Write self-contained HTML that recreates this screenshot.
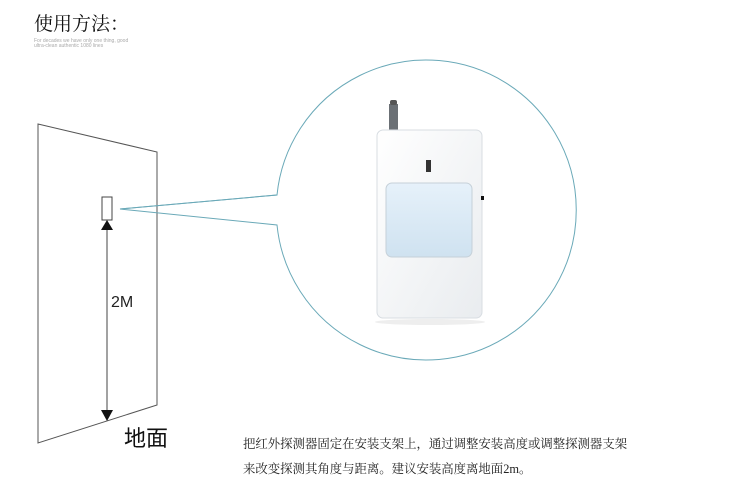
<!DOCTYPE html>
<html><head><meta charset="utf-8"><style>
body{margin:0;width:750px;height:503px;background:#fff;overflow:hidden;position:relative;font-family:"Liberation Sans","Noto Sans CJK SC",sans-serif}
.t{position:absolute;white-space:nowrap}
</style></head><body>
<div class="t" style="left:34px;top:9px;font-size:19px;color:#111;font-family:'Liberation Serif','Noto Serif CJK SC',serif">使用方法：</div>
<div class="t" style="left:34px;top:39px;font-size:5px;line-height:5px;color:#aaa">For decades we have only one thing, good<br>ultra-clean authentic 1080 lines</div>
<svg width="750" height="503" style="position:absolute;left:0;top:0">
<polygon points="38,124 157,152 157,405 38,443" fill="none" stroke="#555" stroke-width="1"/>
<rect x="102" y="197" width="10" height="23" fill="#fff" stroke="#444" stroke-width="1"/>
<line x1="107" y1="228" x2="107" y2="412" stroke="#444" stroke-width="1"/>
<polygon points="107,220 101,230 113,230" fill="#111"/>
<polygon points="107,421 101,410 113,410" fill="#111"/>
<path d="M277,195 A150,150 0 1 1 277,225 L120,209 Z" fill="none" stroke="#6aa9b8" stroke-width="1"/>
<line x1="120" y1="209" x2="277" y2="195" stroke="#6aa9b8"/>
<defs><linearGradient id="g" x1="0" y1="0" x2="1" y2="1"><stop offset="0" stop-color="#fff"/><stop offset="1" stop-color="#e9ecef"/></linearGradient>
<linearGradient id="w" x1="0" y1="0" x2="0" y2="1"><stop offset="0" stop-color="#e6f1fa"/><stop offset="1" stop-color="#cfe2f0"/></linearGradient></defs>
<rect x="389" y="104" width="9" height="28" fill="#6b7075"/>
<rect x="390" y="100" width="7" height="5" rx="2" fill="#555"/>
<rect x="377" y="130" width="105" height="188" rx="6" fill="url(#g)" stroke="#d8dde2"/>
<rect x="386" y="183" width="86" height="74" rx="6" fill="url(#w)" stroke="#c5d0d8"/>
<rect x="426" y="160" width="5" height="12" fill="#333"/>
<rect x="481" y="196" width="3" height="4" fill="#111"/>
<ellipse cx="430" cy="322" rx="55" ry="3" fill="#eee"/>
</svg>
<div class="t" style="left:111px;top:294px;font-size:16px;color:#222">2M</div>
<div class="t" style="left:124px;top:421px;font-size:22px;color:#111">地面</div>
<div class="t" style="left:243px;top:432px;font-size:12.4px;line-height:25px;color:#222;font-family:'Liberation Serif','Noto Serif CJK SC',serif">把红外探测器固定在安装支架上，通过调整安装高度或调整探测器支架<br>来改变探测其角度与距离。建议安装高度离地面2m。</div>
</body></html>
